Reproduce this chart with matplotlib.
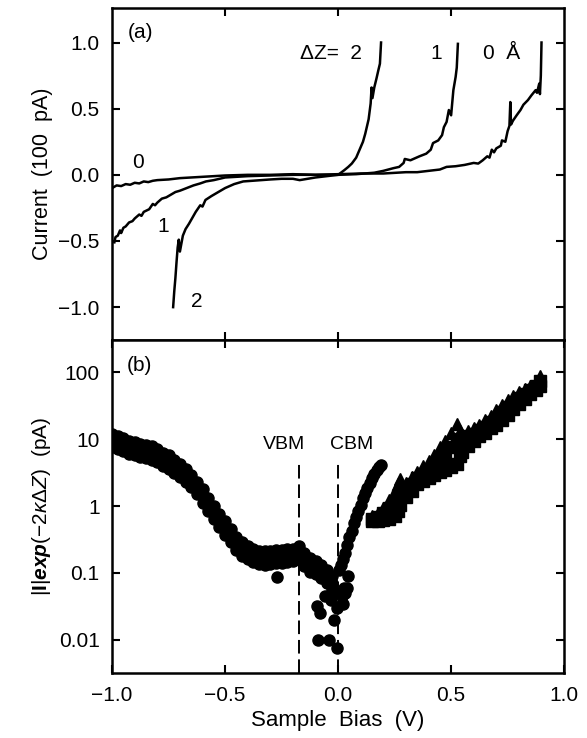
import numpy as np
import matplotlib
matplotlib.use("Agg")
import matplotlib.pyplot as plt

plt.rcParams['font.family'] = ['Liberation Sans', 'DejaVu Sans']
plt.rcParams['mathtext.fontset'] = 'custom'
plt.rcParams['mathtext.rm'] = 'Liberation Sans'
plt.rcParams['mathtext.it'] = 'Liberation Sans:italic'
plt.rcParams['mathtext.bf'] = 'Liberation Sans:bold'
plt.rcParams['mathtext.bfit'] = 'Liberation Sans:italic:bold'

FS = 15

# ---- panel (a): I-V curves, current in units of 100 pA ----
x_dz0 = [-1.00, -0.98, -0.96, -0.94, -0.92, -0.90, -0.88, -0.86, -0.84, -0.82, -0.80,
         -0.75, -0.70, -0.65, -0.60, -0.55, -0.50, -0.40, -0.30, -0.20, -0.10, 0.00,
         0.10, 0.20, 0.30, 0.35, 0.40, 0.45, 0.48, 0.52, 0.56, 0.60, 0.62, 0.64, 0.66,
         0.67, 0.68, 0.69, 0.70, 0.72, 0.725, 0.74, 0.75, 0.758, 0.762, 0.765, 0.774,
         0.79, 0.807, 0.82, 0.84, 0.855, 0.874, 0.88, 0.89, 0.893, 0.897, 0.90]
y_dz0 = [-0.10, -0.08, -0.085, -0.07, -0.075, -0.06, -0.065, -0.05, -0.055, -0.045, -0.04,
         -0.035, -0.025, -0.02, -0.015, -0.01, -0.005, 0.0, 0.0, 0.005, 0.0, 0.005,
         0.01, 0.01, 0.02, 0.02, 0.03, 0.04, 0.06, 0.065, 0.075, 0.09, 0.085, 0.11, 0.14,
         0.13, 0.19, 0.17, 0.20, 0.22, 0.26, 0.25, 0.33, 0.37, 0.55, 0.38, 0.41,
         0.45, 0.49, 0.53, 0.565, 0.60, 0.64, 0.62, 0.69, 0.61, 0.75, 1.00]

x_dz1 = [-0.99, -0.985, -0.975, -0.965, -0.96, -0.95, -0.94, -0.925, -0.91, -0.90, -0.88,
         -0.87, -0.86, -0.836, -0.82, -0.81, -0.80, -0.78, -0.76, -0.75, -0.72, -0.70,
         -0.67, -0.64, -0.61, -0.585, -0.55, -0.50, -0.45, -0.40, -0.30, -0.20, -0.10,
         0.00, 0.08, 0.16, 0.20, 0.244, 0.27, 0.29, 0.295, 0.32, 0.36, 0.39, 0.41, 0.42,
         0.443, 0.46, 0.468, 0.48, 0.49, 0.50, 0.51, 0.52, 0.525, 0.53]
y_dz1 = [-0.51, -0.47, -0.46, -0.42, -0.44, -0.40, -0.39, -0.36, -0.35, -0.33, -0.30,
         -0.31, -0.28, -0.26, -0.22, -0.23, -0.21, -0.18, -0.17, -0.16, -0.13, -0.12,
         -0.10, -0.08, -0.065, -0.05, -0.04, -0.02, -0.015, -0.01, -0.005, 0.0, 0.0,
         0.0, 0.005, 0.016, 0.03, 0.05, 0.06, 0.09, 0.12, 0.11, 0.14, 0.16, 0.19, 0.24,
         0.26, 0.30, 0.36, 0.40, 0.49, 0.45, 0.64, 0.74, 0.81, 0.99]

x_dz2 = [-0.73, -0.725, -0.72, -0.715, -0.71, -0.705, -0.70, -0.687, -0.675, -0.66, -0.65,
         -0.63, -0.61, -0.60, -0.587, -0.56, -0.54, -0.52, -0.50, -0.46, -0.42, -0.38, -0.34,
         -0.30, -0.25, -0.20, -0.17, -0.10, -0.05, 0.00, 0.028, 0.045, 0.061, 0.08,
         0.095, 0.11, 0.12, 0.135, 0.144, 0.148, 0.152, 0.16, 0.17, 0.178, 0.185, 0.19]
y_dz2 = [-1.00, -0.88, -0.78, -0.66, -0.55, -0.49, -0.58, -0.46, -0.41, -0.37, -0.34,
         -0.28, -0.23, -0.24, -0.19, -0.16, -0.14, -0.12, -0.10, -0.07, -0.05, -0.045, -0.04,
         -0.035, -0.03, -0.03, -0.04, -0.02, -0.01, 0.0, 0.036, 0.06, 0.086, 0.13,
         0.19, 0.25, 0.31, 0.42, 0.54, 0.66, 0.58, 0.66, 0.73, 0.79, 0.84, 1.00]

# ---- panel (b): |I| exp(-2 kappa dZ) in pA ----
# left branch (valence band side): upper edge, middle and lower edge of the point band
x_left = [-1.000, -0.975, -0.950, -0.925, -0.900, -0.875, -0.850, -0.825, -0.800, -0.775,
          -0.750, -0.725, -0.700, -0.675, -0.650, -0.625, -0.600, -0.575, -0.550, -0.525,
          -0.500, -0.475, -0.450, -0.425, -0.400, -0.375, -0.350, -0.325, -0.300, -0.275,
          -0.250, -0.225, -0.200, -0.175, -0.150, -0.125, -0.100, -0.075, -0.050, -0.025]
y_left_hi = [12.0, 11.2, 10.5, 9.5, 9.1, 8.5, 8.3, 7.8, 7.1, 6.3,
             5.8, 4.9, 4.3, 3.6, 2.9, 2.3, 1.8, 1.3, 1.0, 0.76,
             0.59, 0.46, 0.35, 0.29, 0.25, 0.23, 0.21, 0.21, 0.21, 0.22,
             0.22, 0.23, 0.23, 0.25, 0.20, 0.17, 0.15, 0.13, 0.11, 0.089]
y_left_md = [9.5, 8.9, 8.3, 7.6, 7.2, 6.8, 6.6, 6.2, 5.6, 5.0,
             4.6, 3.9, 3.4, 2.9, 2.3, 1.9, 1.4, 1.05, 0.79, 0.60,
             0.47, 0.37, 0.28, 0.23, 0.20, 0.18, 0.17, 0.165, 0.17, 0.175,
             0.175, 0.18, 0.185, 0.20, 0.16, 0.135, 0.12, 0.105, 0.088, 0.07]
y_left_lo = [7.6, 7.1, 6.6, 6.0, 5.8, 5.4, 5.2, 4.9, 4.5, 4.0,
             3.6, 3.1, 2.7, 2.3, 1.9, 1.5, 1.1, 0.83, 0.63, 0.48,
             0.37, 0.29, 0.22, 0.18, 0.16, 0.145, 0.135, 0.13, 0.135, 0.14,
             0.14, 0.145, 0.15, 0.16, 0.125, 0.105, 0.095, 0.083, 0.07, 0.056]
x_scatter = [-0.27, -0.095, -0.08, -0.09, -0.04, -0.02, -0.007, -0.005, -0.03, -0.06, -0.015]
y_scatter = [0.087, 0.032, 0.025, 0.010, 0.010, 0.020, 0.0075, 0.030, 0.040, 0.045, 0.05]

# conduction band branch just above CBM
x_mid = [0.005, 0.012, 0.020, 0.030, 0.040, 0.050, 0.060, 0.070, 0.080, 0.090, 0.100,
         0.110, 0.120, 0.130, 0.140, 0.150, 0.160, 0.170, 0.180, 0.190,
         0.015, 0.025, 0.030, 0.040, 0.045, 0.020]
y_mid = [0.11, 0.13, 0.16, 0.20, 0.26, 0.34, 0.43, 0.55, 0.68, 0.85, 1.05,
         1.3, 1.55, 1.85, 2.2, 2.6, 3.0, 3.4, 3.8, 4.1,
         0.045, 0.06, 0.05, 0.06, 0.09, 0.035]

# right branch (large positive bias)
x_right = [0.150, 0.175, 0.200, 0.225, 0.250, 0.265, 0.275, 0.300, 0.325, 0.350, 0.375,
           0.400, 0.425, 0.450, 0.475, 0.500, 0.525, 0.540, 0.550, 0.575, 0.600, 0.625,
           0.650, 0.675, 0.700, 0.725, 0.750, 0.775, 0.800, 0.825, 0.850, 0.875, 0.895]
y_right_hi = [0.70, 0.80, 0.95, 1.25, 1.7, 2.1, 2.5, 2.2, 2.7, 3.2, 3.9,
              4.7, 5.8, 7.5, 9.5, 12.5, 17.0, 13.0, 11.5, 13.0, 14.5, 16.5,
              19.0, 22.0, 27.0, 32.0, 38.0, 44.0, 50.0, 56.0, 62.0, 72.0, 88.0]
y_right_md = [0.64, 0.68, 0.78, 0.95, 1.15, 1.4, 1.6, 1.7, 2.1, 2.6, 3.0,
              3.5, 4.2, 5.0, 6.0, 7.5, 9.5, 10.0, 9.5, 11.0, 12.0, 13.5,
              15.0, 18.0, 21.0, 25.0, 30.0, 35.0, 41.0, 47.0, 54.0, 62.0, 75.0]
y_right_lo = [0.60, 0.60, 0.62, 0.64, 0.70, 0.85, 1.05, 1.35, 1.7, 2.1, 2.4,
              2.6, 2.9, 3.2, 3.5, 3.8, 4.3, 5.5, 6.5, 8.0, 9.5, 11.0,
              12.5, 14.5, 16.5, 19.0, 23.0, 28.0, 34.0, 40.0, 47.0, 54.0, 62.0]

vbm = -0.175
cbm = 0.0

fig = plt.figure(figsize=(5.87, 7.38), dpi=100)
ax1 = fig.add_axes([0.191, 0.539, 0.770, 0.450])
ax2 = fig.add_axes([0.191, 0.088, 0.770, 0.451])

for x, y in [(x_dz0, y_dz0), (x_dz1, y_dz1), (x_dz2, y_dz2)]:
    ax1.plot(x, y, color='black', lw=1.8)

ax1.set_xlim(-1.0, 1.0)
ax1.set_ylim(-1.25, 1.26)
ax1.set_yticks([-1.0, -0.5, 0.0, 0.5, 1.0])
ax1.set_yticklabels(['\u22121.0', '\u22120.5', '0.0', '0.5', '1.0'])
ax1.set_xticks([-0.5, 0.0, 0.5])
ax1.set_xticklabels([])
ax1.set_ylabel('Current  (100  pA)', fontsize=FS + 0.5, labelpad=4)
ax1.text(-0.93, 1.075, '(a)', fontsize=FS, va='center')
ax1.text(-0.17, 0.92, '\u0394Z=  2', fontsize=FS, va='center')
ax1.text(0.41, 0.92, '1', fontsize=FS, va='center')
ax1.text(0.64, 0.92, '0  \u00c5', fontsize=FS, va='center')
ax1.text(-0.91, 0.09, '0', fontsize=FS, va='center')
ax1.text(-0.80, -0.39, '1', fontsize=FS, va='center')
ax1.text(-0.65, -0.96, '2', fontsize=FS, va='center')

ms = 8
ax2.plot(x_left, y_left_hi, 'o', color='black', ms=ms)
ax2.plot(x_left, y_left_md, 'o', color='black', ms=ms)
ax2.plot(x_left, y_left_lo, 'o', color='black', ms=ms)
ax2.plot(x_scatter, y_scatter, 'o', color='black', ms=ms)
ax2.plot(x_mid, y_mid, 'o', color='black', ms=ms)
ax2.plot(x_right, y_right_hi, '^', color='black', ms=ms + 1)
ax2.plot(x_right, y_right_md, 's', color='black', ms=ms)
ax2.plot(x_right, y_right_lo, 's', color='black', ms=ms)

ax2.axvline(vbm, ymin=0, ymax=0.64, color='black', lw=1.4, ls=(0, (7, 3)))
ax2.axvline(cbm, ymin=0, ymax=0.64, color='black', lw=1.4, ls=(0, (7, 3)))
ax2.text(-0.24, 8.3, 'VBM', fontsize=FS - 1, ha='center', va='center')
ax2.text(0.06, 8.3, 'CBM', fontsize=FS - 1, ha='center', va='center')
ax2.text(-0.935, 125, '(b)', fontsize=FS, va='center')

ax2.set_yscale('log')
ax2.set_xlim(-1.0, 1.0)
ax2.set_ylim(0.0032, 300)
ax2.set_yticks([0.01, 0.1, 1, 10, 100])
ax2.set_yticklabels(['0.01', '0.1', '1', '10', '100'])
ax2.minorticks_off()
ax2.set_xticks([-1.0, -0.5, 0.0, 0.5, 1.0])
ax2.set_xticklabels(['\u22121.0', '\u22120.5', '0.0', '0.5', '1.0'])
ax2.set_xlabel('Sample  Bias  (V)', fontsize=FS + 1, labelpad=4)
ax2.set_ylabel(r'$|\mathbf{I}|\mathbfit{exp}(-2\kappa\Delta Z)$  (pA)', fontsize=FS, labelpad=4)

for ax in (ax1, ax2):
    for s in ax.spines.values():
        s.set_linewidth(1.8)
    ax.tick_params(direction='in', length=6, width=1.5, top=True, right=True,
                   labelsize=FS, pad=9)

fig.savefig('out.png', dpi=100)
